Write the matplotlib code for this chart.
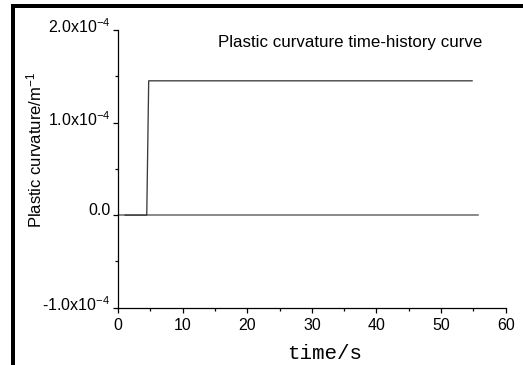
import numpy as np
import matplotlib.pyplot as plt
from matplotlib.patches import Rectangle
from matplotlib.transforms import ScaledTranslation
from matplotlib.ticker import MultipleLocator, FixedLocator, FixedFormatter

plt.rcParams['font.family'] = ['Liberation Sans', 'DejaVu Sans']
plt.rcParams['mathtext.default'] = 'regular'

# plastic curvature time history
time = [1.1, 4.45, 4.75, 54.8]
curvature = [0.0, 0.0, 1.451e-4, 1.451e-4]
# zero reference line
ref_time = [0.0, 55.7]
ref_value = [0.0, 0.0]

yticks = [-1.0e-4, 0.0, 1.0e-4, 2.0e-4]
ytick_labels = ['-1.0x10$^{-4}$', '0.0', '1.0x10$^{-4}$', '2.0x10$^{-4}$']
xticks = [0, 10, 20, 30, 40, 50, 60]

fig = plt.figure(figsize=(5.23, 3.65), dpi=100)
ax = fig.add_axes([118/523, 1 - 307.7/365, (505.7-118)/523, (307.7-30)/365])

ax.plot(ref_time, ref_value, color='#6a6a6a', lw=1.1)
ax.plot(time, curvature, color='#3a3a3a', lw=0.95)

ax.set_xlim(0, 60)
ax.set_ylim(-1.0e-4, 2.0e-4)
ax.xaxis.set_major_locator(FixedLocator(xticks))
ax.xaxis.set_minor_locator(MultipleLocator(5))
ax.yaxis.set_major_locator(FixedLocator(yticks))
ax.yaxis.set_major_formatter(FixedFormatter(ytick_labels))
ax.yaxis.set_minor_locator(MultipleLocator(0.5e-4))

for s in ['top', 'right']:
    ax.spines[s].set_visible(False)
for s in ['left', 'bottom']:
    ax.spines[s].set_linewidth(0.9)
ax.tick_params(which='major', direction='out', length=3.6, width=0.9, labelsize=11.5)
ax.tick_params(axis='x', which='major', pad=4)
ax.tick_params(axis='y', which='major', pad=2)
ax.tick_params(which='minor', direction='out', length=2.2, width=0.9)

# labels sit on the tick, the x10 ones a bit lower
shift = ScaledTranslation(0, -3/100, fig.dpi_scale_trans)
for tick, txt in zip(ax.yaxis.get_major_ticks(), ytick_labels):
    tick.label1.set_va('baseline')
    if '$' in txt:
        tick.label1.set_transform(tick.label1.get_transform() + shift)

ax.set_xlabel('time/s', family='Liberation Mono', fontsize=15)
ax.xaxis.set_label_coords(0.532, -0.13)
ax.set_ylabel('Plastic curvature/m$^{-1}$', fontsize=12)
ax.yaxis.set_label_coords(-0.19, 0.57)
ax.text(0.258, 0.955, 'Plastic curvature time-history curve', transform=ax.transAxes,
        fontsize=12.2, va='center', ha='left')

# black frame on the left and top
fig.patches.append(Rectangle((11/523, 0), 4/523, 1 - 4/365, transform=fig.transFigure,
                             color='black', lw=0))
fig.patches.append(Rectangle((11/523, 1 - 8/365), 1, 4/365, transform=fig.transFigure,
                             color='black', lw=0))

fig.savefig('out.png', dpi=100)
